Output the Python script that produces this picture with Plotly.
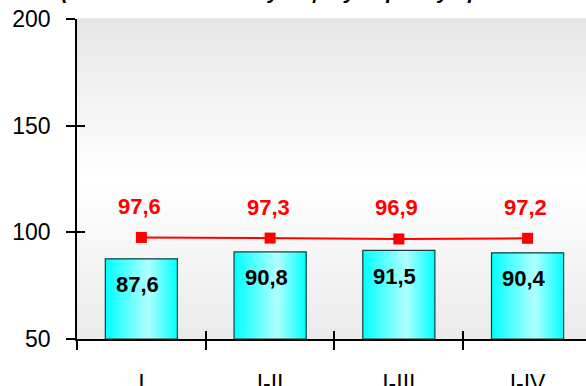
import plotly.graph_objects as go

categories = ["I", "I-II", "I-III", "I-IV"]
bar_values = [87.6, 90.8, 91.5, 90.4]
line_values = [97.6, 97.3, 96.9, 97.2]
y_ticks = [50, 100, 150, 200]
title_text = "(в % к соответствующему периоду прошлого года)"

def fmt(v):
    return f"{v:.1f}".replace(".", ",")

fig = go.Figure()

# gradient bars built from overlapping slivers
BW = 0.56
N = 24
step = BW / N
for i in range(N):
    t = (i + 0.5) / N
    if t < 0.6:
        l = 0.82 * t / 0.6
    else:
        l = 0.82 * (1 - t) / 0.4
    r = int(round(215 * l))
    col = f"rgb({r},255,255)"
    fig.add_trace(go.Bar(
        x=categories, y=[v - 50 for v in bar_values], base=50,
        width=BW - i * step, offset=-BW / 2 + i * step,
        marker=dict(color=col, line=dict(width=0)),
        showlegend=False, hoverinfo="skip"))

# outline
fig.add_trace(go.Bar(
    x=categories, y=[v - 50 for v in bar_values], base=50,
    width=BW, offset=-BW / 2,
    marker=dict(color="rgba(0,0,0,0)", line=dict(width=1.2, color="#1f3b3b")),
    showlegend=False, hoverinfo="skip"))

fig.add_trace(go.Scatter(
    x=categories, y=line_values, mode="lines+markers",
    line=dict(color="#ff0000", width=2),
    marker=dict(symbol="square", size=11, color="#ff0000"),
    showlegend=False, hoverinfo="skip"))

for c, v in zip(categories, bar_values):
    fig.add_annotation(x=c, y=v, text=f"<b>{fmt(v)}</b>", showarrow=False,
                       yshift=-26, xshift=-4,
                       font=dict(family="Liberation Sans, Arial", size=22, color="black"))
for c, v in zip(categories, line_values):
    fig.add_annotation(x=c, y=v, text=f"<b>{fmt(v)}</b>", showarrow=False,
                       yshift=31, xshift=-2,
                       font=dict(family="Liberation Sans, Arial", size=22, color="#ff0000"))

fig.add_annotation(xref="paper", yref="paper", x=0.52, y=1, yanchor="bottom",
                   yshift=14, text=f"<b><i>{title_text}</i></b>", showarrow=False,
                   font=dict(family="Liberation Sans, Arial", size=21, color="black"))

# gray-white-gray background gradient
NS = 60
for i in range(NS):
    y0 = i / NS
    y1 = (i + 1) / NS
    yc = (y0 + y1) / 2
    if yc < 0.5:
        g = 234 + (255 - 234) * (yc / 0.5)
    else:
        g = 255 - (255 - 230) * ((yc - 0.5) / 0.5)
    g = int(round(g))
    fig.add_shape(type="rect", xref="paper", yref="paper", x0=0, x1=1, y0=y0, y1=y1 + 0.002,
                  fillcolor=f"rgb({g},{g},{g})", line=dict(width=0), layer="below")

axis_font = dict(family="Liberation Sans, Arial", size=23, color="black")
fig.update_layout(
    width=586, height=386,
    margin=dict(l=77, r=0, t=19, b=47, autoexpand=False),
    paper_bgcolor="white", plot_bgcolor="white",
    barmode="overlay",
    xaxis=dict(type="category", categoryarray=categories, range=[-0.5, 3.454],
               tickson="boundaries", ticks="outside", ticklen=9, tickwidth=1.5,
               tickcolor="black", showline=True, linecolor="black", linewidth=1.5,
               showgrid=False, zeroline=False, tickfont=axis_font, automargin=False,
               ticklabelstandoff=23, fixedrange=True),
    yaxis=dict(range=[50, 200], tickvals=y_ticks, ticks="outside", ticklen=9,
               tickwidth=1.5, tickcolor="black", showline=True, linecolor="black",
               linewidth=1.5, showgrid=False, zeroline=False, tickfont=axis_font,
               automargin=False, ticklabelstandoff=11, fixedrange=True),
    xaxis2=dict(overlaying="x", type="category", categoryarray=categories,
                range=[-0.5, 3.454], tickson="boundaries", ticks="inside", ticklen=8,
                tickwidth=1.5, tickcolor="black", showticklabels=False, showgrid=False,
                zeroline=False, showline=False, matches="x", automargin=False),
    yaxis2=dict(overlaying="y", range=[50, 200], tickvals=y_ticks, ticks="inside",
                ticklen=8, tickwidth=1.5, tickcolor="black", showticklabels=False,
                showgrid=False, zeroline=False, showline=False, matches="y",
                automargin=False),
)
# invisible trace to activate the secondary axes
fig.add_trace(go.Scatter(x=categories, y=bar_values, xaxis="x2", yaxis="y2",
                         mode="markers", marker=dict(opacity=0), showlegend=False,
                         hoverinfo="skip"))

fig.write_html("out.html", config={"displayModeBar": False},
               post_script="document.body.style.margin='0';document.body.style.overflow='hidden';")
